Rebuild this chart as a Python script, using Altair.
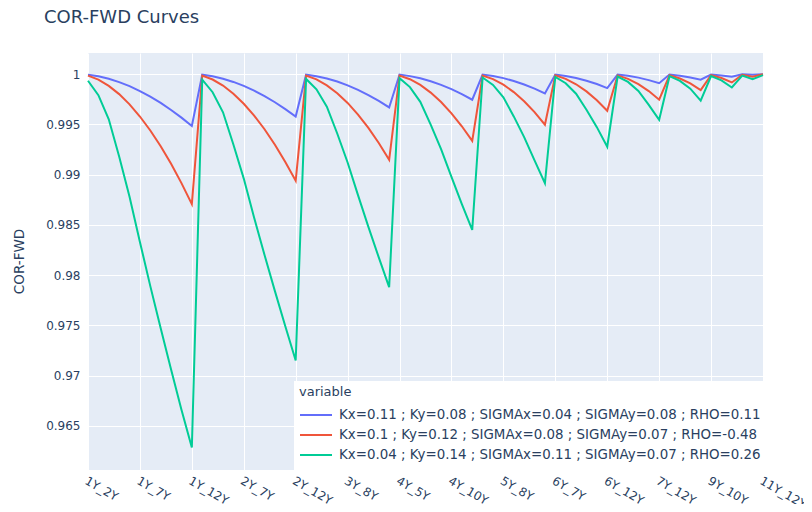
import altair as alt
import pandas as pd

categories = [
    "1Y_2Y", "1Y_3Y", "1Y_4Y", "1Y_5Y", "1Y_6Y", "1Y_7Y", "1Y_8Y", "1Y_9Y", "1Y_10Y", "1Y_11Y", "1Y_12Y",
    "2Y_3Y", "2Y_4Y", "2Y_5Y", "2Y_6Y", "2Y_7Y", "2Y_8Y", "2Y_9Y", "2Y_10Y", "2Y_11Y", "2Y_12Y",
    "3Y_4Y", "3Y_5Y", "3Y_6Y", "3Y_7Y", "3Y_8Y", "3Y_9Y", "3Y_10Y", "3Y_11Y", "3Y_12Y",
    "4Y_5Y", "4Y_6Y", "4Y_7Y", "4Y_8Y", "4Y_9Y", "4Y_10Y", "4Y_11Y", "4Y_12Y",
    "5Y_6Y", "5Y_7Y", "5Y_8Y", "5Y_9Y", "5Y_10Y", "5Y_11Y", "5Y_12Y",
    "6Y_7Y", "6Y_8Y", "6Y_9Y", "6Y_10Y", "6Y_11Y", "6Y_12Y",
    "7Y_8Y", "7Y_9Y", "7Y_10Y", "7Y_11Y", "7Y_12Y",
    "8Y_9Y", "8Y_10Y", "8Y_11Y", "8Y_12Y",
    "9Y_10Y", "9Y_11Y", "9Y_12Y",
    "10Y_11Y", "10Y_12Y",
    "11Y_12Y",
]

x_ticks = ["1Y_2Y", "1Y_7Y", "1Y_12Y", "2Y_7Y", "2Y_12Y", "3Y_8Y", "4Y_5Y",
           "4Y_10Y", "5Y_8Y", "6Y_7Y", "6Y_12Y", "7Y_12Y", "9Y_10Y", "11Y_12Y"]
y_ticks = [0.965, 0.97, 0.975, 0.98, 0.985, 0.99, 0.995, 1.0]

names = [
    "Kx=0.11 ; Ky=0.08 ; SIGMAx=0.04 ; SIGMAy=0.08 ; RHO=0.11",
    "Kx=0.1 ; Ky=0.12 ; SIGMAx=0.08 ; SIGMAy=0.07 ; RHO=-0.48",
    "Kx=0.04 ; Ky=0.14 ; SIGMAx=0.11 ; SIGMAy=0.07 ; RHO=0.26",
]
colors = ["#636EFA", "#EF553B", "#00CC96"]

blue = [
    0.99994, 0.99978, 0.99953, 0.99920, 0.99880, 0.99831, 0.99776, 0.99713, 0.99643, 0.99567, 0.99483,
    0.99994, 0.99978, 0.99954, 0.99922, 0.99883, 0.99836, 0.99781, 0.99720, 0.99652, 0.99577,
    0.99994, 0.99979, 0.99957, 0.99926, 0.99888, 0.99843, 0.99791, 0.99733, 0.99668,
    0.99995, 0.99980, 0.99958, 0.99929, 0.99893, 0.99850, 0.99801, 0.99745,
    0.99995, 0.99981, 0.99960, 0.99932, 0.99897, 0.99856, 0.99808,
    0.99995, 0.99982, 0.99961, 0.99934, 0.99901, 0.99861,
    0.99995, 0.99983, 0.99965, 0.99940, 0.99910,
    0.99996, 0.99984, 0.99967, 0.99944,
    0.99996, 0.99987, 0.99973,
    0.99998, 0.99993,
    0.99999,
]
red = [
    0.99985, 0.99945, 0.99883, 0.99801, 0.99699, 0.99578, 0.99439, 0.99282, 0.99107, 0.98915, 0.98706,
    0.99985, 0.99946, 0.99886, 0.99805, 0.99705, 0.99587, 0.99451, 0.99297, 0.99126, 0.98938,
    0.99985, 0.99947, 0.99888, 0.99810, 0.99713, 0.99597, 0.99464, 0.99314, 0.99147,
    0.99986, 0.99949, 0.99892, 0.99816, 0.99722, 0.99610, 0.99481, 0.99336,
    0.99986, 0.99950, 0.99895, 0.99821, 0.99730, 0.99621, 0.99496,
    0.99987, 0.99952, 0.99899, 0.99828, 0.99740, 0.99635,
    0.99987, 0.99953, 0.99901, 0.99831, 0.99745,
    0.99988, 0.99956, 0.99907, 0.99841,
    0.99989, 0.99961, 0.99917,
    0.99993, 0.99973,
    0.99998,
]
green = [
    0.99934, 0.99790, 0.99550, 0.99180, 0.98780, 0.98330, 0.97890, 0.97470, 0.97060, 0.96660, 0.96284,
    0.99944, 0.99820, 0.99620, 0.99300, 0.98960, 0.98570, 0.98200, 0.97840, 0.97490, 0.97150,
    0.99952, 0.99849, 0.99676, 0.99409, 0.99120, 0.98796, 0.98479, 0.98176, 0.97880,
    0.99960, 0.99871, 0.99724, 0.99498, 0.99253, 0.98977, 0.98707, 0.98450,
    0.99966, 0.99892, 0.99769, 0.99579, 0.99373, 0.99142, 0.98915,
    0.99971, 0.99909, 0.99805, 0.99645, 0.99472, 0.99277,
    0.99975, 0.99922, 0.99832, 0.99694, 0.99545,
    0.99979, 0.99932, 0.99855, 0.99735,
    0.99980, 0.99938, 0.99867,
    0.99985, 0.99950,
    0.99990,
]

rows = []
for name, series in zip(names, [blue, red, green]):
    for cat, v in zip(categories, series):
        rows.append({"pair": cat, "value": v, "variable": name})
df = pd.DataFrame(rows)

FONT = "DejaVu Sans"
TXT = "#2a3f5f"

chart = alt.Chart(df).mark_line(strokeWidth=2).encode(
    x=alt.X(
        "pair:N",
        sort=categories,
        scale=alt.Scale(type="point", padding=0, domain=categories),
        axis=alt.Axis(
            values=x_ticks, title=None, labelAngle=30, labelAlign="left",
            labelBaseline="top", labelPadding=5, labelOverlap=False,
            grid=True, ticks=False, domain=False,
            labelFont=FONT, labelFontSize=12, labelColor=TXT,
        ),
    ),
    y=alt.Y(
        "value:Q",
        scale=alt.Scale(domain=[0.9606, 1.0021], nice=False, zero=False),
        axis=alt.Axis(
            values=y_ticks, format=".3~f", title="COR-FWD",
            titleX=-65, titleY=208, titleBaseline="alphabetic", titleAlign="center",
            titleFont=FONT, titleFontSize=13.5, titleFontWeight="normal", titleColor=TXT,
            labelFont=FONT, labelFontSize=12, labelColor=TXT, labelPadding=8,
            ticks=False, domain=False, grid=True,
        ),
    ),
    color=alt.Color(
        "variable:N",
        sort=names,
        scale=alt.Scale(domain=names, range=colors),
        legend=alt.Legend(
            title="variable", orient="none", legendX=206, legendY=328,
            fillColor="white", padding=5,
            symbolType="stroke", symbolSize=1024, symbolStrokeWidth=2,
            clipHeight=20, rowPadding=0, labelOffset=6, titlePadding=6,
            labelFont=FONT, labelFontSize=13.4, labelColor=TXT, labelLimit=800,
            titleFont=FONT, titleFontSize=13, titleFontWeight="normal", titleColor=TXT,
        ),
    ),
).properties(
    width=675,
    height=417,
    title=alt.TitleParams(
        "COR-FWD Curves", anchor="start", frame="group", dx=-44, offset=26,
        font=FONT, fontSize=18, fontWeight="normal", color=TXT,
    ),
    autosize=alt.AutoSizeParams(type="none"),
    padding={"left": 80, "top": 45, "right": 41, "bottom": 34},
).configure_view(
    fill="#E5ECF6", stroke=None,
).configure_axis(
    gridColor="white", gridWidth=1,
)

chart.save("out.html", embed_options={"renderer": "svg", "actions": False})
